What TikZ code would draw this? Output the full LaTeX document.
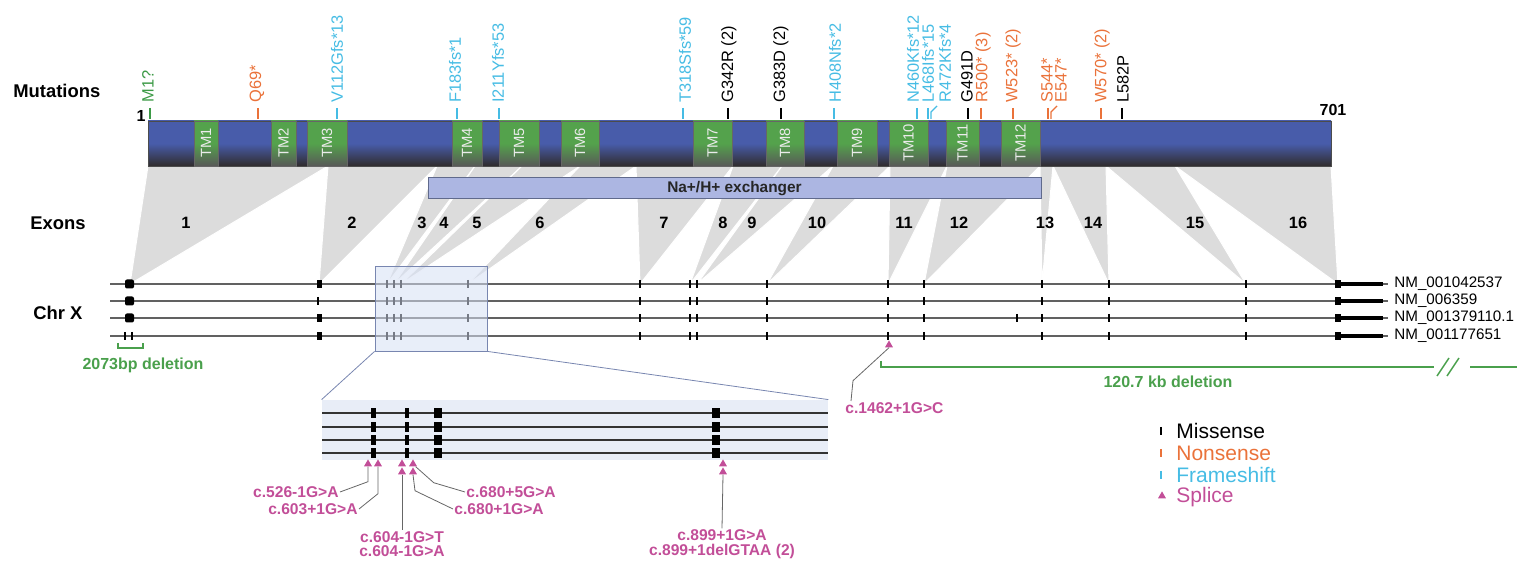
\documentclass[tikz,border=0pt]{standalone}
\usepackage{fontspec}
\setmainfont{Liberation Sans}
\usetikzlibrary{shapes.geometric, positioning}

\definecolor{barblue}{RGB}{72,92,170}
\definecolor{bardark}{RGB}{48,44,44}
\definecolor{tmgreen}{RGB}{84,162,76}
\definecolor{tmgray}{RGB}{88,88,88}
\definecolor{fsblue}{RGB}{70,188,228}
\definecolor{nsorange}{RGB}{234,114,58}
\definecolor{misgreen}{RGB}{60,154,70}
\definecolor{delgreen}{RGB}{74,160,76}
\definecolor{splmag}{RGB}{194,78,152}
\definecolor{wedgegray}{RGB}{220,220,220}
\definecolor{nhefill}{RGB}{172,182,226}
\definecolor{nhedraw}{RGB}{96,106,140}
\definecolor{zoomfill}{RGB}{214,224,244}
\definecolor{zoomdraw}{RGB}{120,134,176}
\definecolor{insetfill}{RGB}{232,237,247}

\tikzset{
  header/.style = {anchor=west, inner sep=0pt, font=\fontsize{9.2}{11}\selectfont\bfseries},
  exonnum/.style = {inner sep=0pt, font=\fontsize{8.2}{10}\selectfont\bfseries},
  aanum/.style = {inner sep=0pt, font=\fontsize{8}{9}\selectfont\bfseries},
  mutlabel/.style = {rotate=90, anchor=west, inner sep=0pt, font=\fontsize{8.2}{9}\selectfont},
  mutmark/.style = {line width=0.7pt},
  tmbox/.style = {draw=black!60, line width=0.3pt, top color=tmgreen, bottom color=tmgray, middle color=tmgreen},
  tmlabel/.style = {rotate=90, inner sep=0pt, text=black!8, font=\fontsize{7.4}{8}\selectfont},
  wedge/.style = {fill=wedgegray, draw=white, line width=0.5pt},
  nhe/.style = {draw=nhedraw, fill=nhefill, line width=0.5pt, inner sep=0pt, minimum width=306.5pt, minimum height=10.5pt, font=\fontsize{7.7}{9}\selectfont\bfseries, text=black!85},
  chrline/.style = {draw=black!62, line width=0.7pt},
  exontick/.style = {line width=0.75pt},
  nmlabel/.style = {anchor=west, inner sep=0pt, font=\fontsize{7.6}{9}\selectfont},
  zoomline/.style = {draw=zoomdraw, line width=0.4pt},
  splice/.style = {regular polygon, regular polygon sides=3, fill=splmag, inner sep=0pt, minimum size=4.6pt},
  splicelab/.style = {text=splmag, inner sep=0.5pt, align=center, font=\fontsize{7.8}{7.2}\selectfont\bfseries},
  leader/.style = {draw=black!60, line width=0.4pt},
  delline/.style = {draw=delgreen, line width=0.75pt},
  dellabel/.style = {text=delgreen, inner sep=0pt, font=\fontsize{8}{9}\selectfont\bfseries},
  legendtext/.style = {anchor=west, inner sep=0pt, font=\fontsize{10.5}{12}\selectfont},
}

\begin{document}
\begin{tikzpicture}[x=0.5pt, y=-0.5pt]
\useasboundingbox (0,0) rectangle (1517,561);

\foreach \wl/\wr/\we in {148/328/130, 328/437/319, 437/475/387, 475/522/394, 522/580/401, 580/636/468, 636/733/640, 733/782/690, 782/833/697, 833/890/767, 890/947/888, 947/1040/924, 1040/1053/1042, 1053/1106/1109, 1106/1175/1246, 1175/1331/1338}
  \filldraw[wedge] (\wl,166) -- (\wr,166) -- (\we,284) -- cycle;

\node[header] (mutations) at (13,91) {Mutations};
\node[header] (exons) at (30,223) {Exons};
\node[header] (chrx) at (33,313) {Chr X};

\shadedraw[draw=black!70, line width=0.3pt, top color=barblue, bottom color=bardark, middle color=barblue] (148,121) rectangle (1331,166);
\foreach \n/\a/\b in {1/194/218, 2/271/296, 3/307/347, 4/452/482, 5/499/539, 6/561/599, 7/693/732, 8/766/804, 9/837/877, 10/889/928, 11/946/979, 12/1001/1040} {
  \shadedraw[tmbox] (\a,121) rectangle (\b,166);
  \node[tmlabel] (tm\n) at ({(\a+\b)/2},143) {TM\n};
}
\node[aanum] (aa1) at (141,116) {1};
\node[aanum] (aa701) at (1333,110) {701};

\foreach \tx/\lx/\c/\t in {150/148/misgreen/M1?, 258/257/nsorange/Q69*, 337/337/fsblue/V112Gfs*13, 457/455/fsblue/F183fs*1, 499/498/fsblue/I211Yfs*53, 683/685/fsblue/T318Sfs*59, 728/729/black/G342R (2), 781/781/black/G383D (2), 834/835/fsblue/H408Nfs*2, 917/913/fsblue/N460Kfs*12, 928/928/fsblue/L468Ifs*15, 968/967/black/G491D, 981/983/nsorange/R500* (3), 1013/1013/nsorange/W523* (2), 1048/1047/nsorange/S544*, 1101/1102/nsorange/W570* (2), 1122/1123/black/L582P} {
  \draw[mutmark, \c] (\tx,108) -- (\tx,119);
  \node[mutlabel, text=\c] (mut\tx) at (\lx,103) {\t};
}
\foreach \tx/\lx/\c/\t in {931/945/fsblue/R472Kfs*4, 1051/1061/nsorange/E547*} {
  \draw[mutmark, \c] (\tx,119) -- (\tx,112) -- (\tx+6,106);
  \node[mutlabel, text=\c] (mut\tx) at (\lx,103) {\t};
}

\node[nhe] (nhe) at (734.5,188.5) {Na+/H+ exchanger};

\foreach \n/\x in {1/186, 2/352, 3/422, 4/444, 5/477, 6/540, 7/664, 8/723, 9/752, 10/817, 11/904, 12/959, 13/1045, 14/1093, 15/1195, 16/1298}
  \node[exonnum] (ex\n) at (\x,223) {\n};

\foreach \row/\y/\nm in {1/284/NM\_001042537, 2/301/NM\_006359, 3/318/NM\_001379110.1, 4/336/NM\_001177651} {
  \draw[chrline] (110,\y) -- (1388,\y);
  \foreach \x in {387,394,401,468,640,690,697,767,888,924,1042,1109,1246}
    \draw[exontick] (\x,\y-4) -- (\x,\y+4);
  \fill (1335,\y-4) rectangle (1341,\y+4);
  \draw[line width=2pt] (1341,\y) -- (1383,\y);
  \node[nmlabel] (nm\row) at (1394,\y) {\nm};
}
\foreach \y in {284,301,318}
  \fill[rounded corners=1pt] (125,\y-4.5) rectangle (134,\y+4.5);
\foreach \y in {284,318,336}
  \fill (317,\y-4) rectangle (321.5,\y+4);
\draw[exontick] (318,297) -- (318,305);
\draw[exontick] (1017,314) -- (1017,322);
\draw[exontick] (125,332) -- (125,340);
\draw[exontick] (132,332) -- (132,340);

\draw[delline] (118,343) -- (118,348) -- (143,348) -- (143,343);
\node[dellabel] (del2073) at (143,365) {2073bp deletion};

\node[draw=zoomdraw, fill=zoomfill, fill opacity=0.55, line width=0.4pt, minimum width=56pt, minimum height=42.5pt, inner sep=0pt] (zsrc) at (431,308.5) {};
\node[fill=insetfill, minimum width=253pt, minimum height=30pt, inner sep=0pt] (inset) at (575,430) {};
\draw[zoomline] (zsrc.south west) -- (inset.north west);
\draw[zoomline] (zsrc.south east) -- (inset.north east);
\foreach \y in {413,427,440,453} {
  \draw[line width=0.75pt, black!80] (322,\y) -- (828,\y);
  \foreach \x/\w in {373/5, 407/4, 438/8, 716/8}
    \fill (\x-\w/2,\y-5) rectangle (\x+\w/2,\y+5);
}

\node[splice] (t526) at (368,464) {};
\node[splice] (t603) at (378,464) {};
\node[splice] (t604) at (402,464) {};
\node[splice] (t604b) at (402,472) {};
\node[splice] (t680) at (413,464) {};
\node[splice] (t680b) at (413,472) {};
\node[splice] (t899) at (723,464) {};
\node[splice] (t899b) at (723,472) {};
\node[splice] (t1462) at (889,345) {};

\node[splicelab, anchor=east] (s526) at (340,492) {c.526-1G>A};
\node[splicelab, anchor=east] (s603) at (359,509) {c.603+1G>A};
\node[splicelab] (s604) at (402,544) {c.604-1G>T\\c.604-1G>A};
\node[splicelab, anchor=west] (s680a) at (465,492) {c.680+5G>A};
\node[splicelab, anchor=west] (s680b) at (453,509) {c.680+1G>A};
\node[splicelab] (s899) at (722,544) {c.899+1G>A\\c.899+1delGTAA (2)};
\node[splicelab, anchor=north west] (s1462) at (844,401) {c.1462+1G>C};

\draw[leader] (t526.south) -- ++(0,15) -- (s526.east);
\draw[leader] (t603.south) -- ++(0,27) -- (s603.east);
\draw[leader] (t604b.south) -- (s604.north);
\draw[leader] (t680.south east) -- ++(18,16) -- (s680a.west);
\draw[leader] (t680b.south) -- ++(2,16) -- (s680b.west);
\draw[leader] (t899b.south) -- (s899.north);
\draw[leader] (t1462.south) -- ++(-36,33) -- ([xshift=3.5pt]s1462.north west);

\draw[delline] (881,361) -- (881,367) -- (1434,367);
\draw[delline] (1437,376) -- (1449,358);
\draw[delline] (1447,376) -- (1459,358);
\draw[delline] (1470,367) -- (1517,367);
\node[dellabel] (del120) at (1168,382) {120.7 kb deletion};

\draw[mutmark, black] (1161,427) -- (1161,435);
\node[legendtext] (lgmis) at (1176,431) {Missense};
\draw[mutmark, nsorange] (1161,449) -- (1161,457);
\node[legendtext, text=nsorange] (lgnon) at (1176,453) {Nonsense};
\draw[mutmark, fsblue] (1161,471) -- (1161,479);
\node[legendtext, text=fsblue] (lgfs) at (1176,475) {Frameshift};
\node[splice] (tleg) at (1162,496) {};
\node[legendtext, text=splmag] (lgspl) at (1176,497) {Splice};
\end{tikzpicture}
\end{document}
